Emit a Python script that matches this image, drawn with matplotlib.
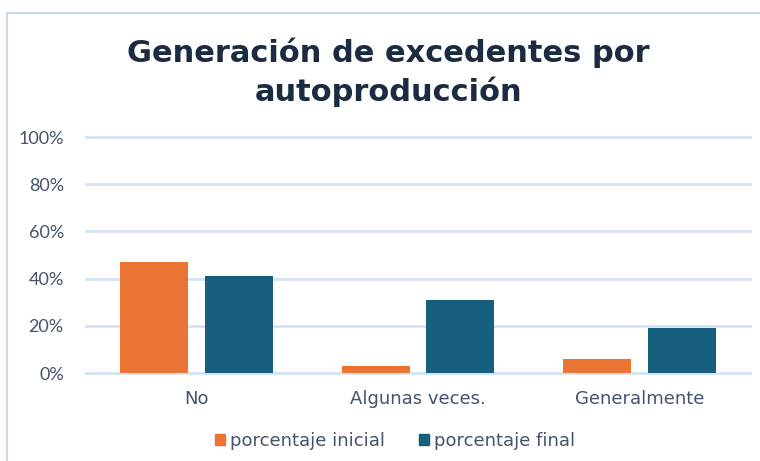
import matplotlib
matplotlib.use("Agg")
import matplotlib.pyplot as plt
from matplotlib.patches import Rectangle, Patch
from matplotlib.ticker import PercentFormatter

categories = ["No", "Algunas veces.", "Generalmente"]
inicial = [47, 3, 6]
final = [41, 31, 19]
series_names = ["porcentaje inicial", "porcentaje final"]
yticks = [0, 20, 40, 60, 80, 100]

c_ini = "#EA7434"
c_fin = "#175F7F"
grid_c = "#D3E2F3"
tick_c = "#44546A"
title_c = "#1B2B42"

plt.rcParams['font.family'] = ['Lato', 'DejaVu Sans']
wide = ['DejaVu Sans']

fig = plt.figure(figsize=(7.6, 4.61), dpi=100)
ax = fig.add_axes([86/760, 1-373/461, (750-86)/760, (373-137)/461])

x = list(range(len(categories)))
w = 0.307
off = w/2 + 0.038
ax.bar([i - off for i in x], inicial, width=w, color=c_ini, zorder=3)
ax.bar([i + off for i in x], final, width=w, color=c_fin, zorder=3)

ax.set_xlim(-0.5, len(categories) - 0.5)
ax.set_ylim(0, 100)
ax.set_yticks(yticks)
ax.yaxis.set_major_formatter(PercentFormatter(decimals=0))
ax.set_xticks(x)
ax.set_xticklabels(categories, family=wide)
ax.grid(axis='y', color=grid_c, lw=2, zorder=0)
for ln in ax.get_ygridlines():
    ln.set_clip_on(False)
for s in ax.spines.values():
    s.set_visible(False)
ax.tick_params(axis='both', length=0, colors=tick_c, labelsize=13)
ax.tick_params(axis='y', pad=16)
ax.tick_params(axis='x', pad=12, labelsize=13)

fig.text(0.511, 1-72/461, "Generación de excedentes por\nautoproducción",
         ha='center', va='center', fontsize=22, fontweight='bold',
         color=title_c, linespacing=1.35, family=wide)

handles = [Patch(color=c_ini), Patch(color=c_fin)]
fig.legend(handles, series_names, loc='center', bbox_to_anchor=(0.52, 1-441/461),
           ncol=2, frameon=False, handlelength=0.55, handleheight=0.55,
           handletextpad=0.3, columnspacing=1.85, labelcolor=tick_c,
           prop={'family': wide, 'size': 13})

fig.patches.append(Rectangle((7/760, -0.1), 1.2, (461-13)/461 + 0.1,
                             transform=fig.transFigure, fill=False,
                             edgecolor="#C5D9F1", lw=1.5))

fig.savefig("out.png", dpi=100)
